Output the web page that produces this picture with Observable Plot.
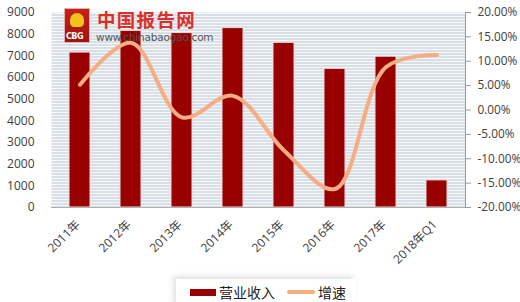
<!DOCTYPE html>
<html><head><meta charset="utf-8">
<script src="https://cdn.jsdelivr.net/npm/d3@7"></script>
<script src="https://cdn.jsdelivr.net/npm/@observablehq/plot@0.6"></script>
<style>
body{margin:0;background:#fff;font-family:"Open Sans","Noto Sans CJK SC",sans-serif;}
#wrap{position:relative;width:520px;height:302px;overflow:hidden;}
#chart{position:absolute;left:0;top:0;}
#legend{position:absolute;left:176px;top:279px;width:180px;height:30px;background:#fff;box-shadow:-3px -3px 6px rgba(0,0,0,0.12);font-size:14px;color:#222;font-family:"Noto Sans CJK SC",sans-serif;}
#logo{position:absolute;left:64px;top:8px;width:26px;height:35px;background:linear-gradient(#c8201a,#9e1410);border:1px solid #e9b0a8;box-sizing:border-box;}
</style></head>
<body><div id="wrap"><div id="chart"></div>
<div id="logo"><div style="position:absolute;left:5px;top:4px;width:14px;height:14px;background:#f4c21c;border-radius:50% 50% 30% 30%;"></div><div style="position:absolute;left:1px;bottom:1px;font:bold 8px 'DejaVu Sans';color:#fff;letter-spacing:-0.5px;">CBG</div></div>
<div style="position:absolute;left:97px;top:10px;font:bold 18.5px 'Noto Sans CJK SC';color:#d9302a;letter-spacing:1.3px;line-height:19px;">中国报告网</div>
<div style="position:absolute;left:96px;top:32px;font:10.5px 'DejaVu Sans';color:#555;letter-spacing:-0.2px;line-height:11px;">www.chinabaogao.com</div>
<div id="legend">
 <div style="position:absolute;left:14px;top:10px;width:26px;height:7px;background:#990000;"></div>
 <div style="position:absolute;left:43px;top:3px;">营业收入</div>
 <div style="position:absolute;left:111px;top:11px;width:28px;height:4px;background:#f5ad84;border-radius:2px;"></div>
 <div style="position:absolute;left:142px;top:3px;">增速</div>
</div>
</div>
<script>
const categories = ["2011年","2012年","2013年","2014年","2015年","2016年","2017年","2018年Q1"];
const revenue = [7150, 8150, 8050, 8280, 7600, 6400, 6960, 1250];
const growth = [5.2, 13.8, -1.5, 2.9, -8.3, -16.2, 8.8, 11.3];
const leftTicks = [0,1000,2000,3000,4000,5000,6000,7000,8000,9000];
const pctTicks = [-20,-15,-10,-5,0,5,10,15,20];

const toY = p => (p + 20) / 40 * 9000;
const data = categories.map((c,i)=>({c, rev: revenue[i], g: growth[i]}));

const chart = Plot.plot({
  width: 520, height: 276,
  marginLeft: 51, marginRight: 55, marginTop: 12, marginBottom: 69,
  style: {fontFamily: "'Open Sans','Noto Sans CJK SC',sans-serif", fontSize: "11.5px", color: "#404040", background: "transparent"},
  x: {domain: categories, paddingInner: 0.58, paddingOuter: 0.29, label: null},
  y: {domain: [0, 9000], label: null},
  marks: [
    Plot.frame({fill: "url(#stripes)", stroke: "none"}),
    Plot.axisY({ticks: leftTicks, tickSize: 0, tickPadding: 17, tickFormat: d => String(d), label: null, fontSize: 12}),
    Plot.axisY({anchor: "right", ticks: pctTicks.map(toY), tickSize: 5, tickPadding: 7, stroke: "#999", tickFormat: y => (y/9000*40 - 20).toFixed(2) + "%", label: null, fontSize: 11.8}),
    Plot.axisX({tickRotate: -45, tickSize: 0, tickPadding: 6, dx: -2, dy: 9, label: null, fontSize: 12}),
    Plot.barY(data, {x: "c", y: "rev", fill: "#990000", stroke: "#eadede", strokeWidth: 1}),
    Plot.ruleY([0], {stroke: "#b0b0b0"}),
    Plot.frame({anchor: "right", stroke: "#999"}),
    Plot.lineY(data, {x: "c", y: d => toY(d.g), stroke: "#f5ad84", strokeWidth: 4, curve: "catmull-rom", strokeLinecap: "round"})
  ]
});
const ns = "http://www.w3.org/2000/svg";
const defs = document.createElementNS(ns, "defs");
defs.innerHTML = '<pattern id="stripes" width="6" height="3" patternUnits="userSpaceOnUse"><rect width="6" height="3" fill="#f5f7f9"/><rect y="2" width="6" height="1" fill="#bcc7d2"/></pattern>';
chart.insertBefore(defs, chart.firstChild);
document.getElementById("chart").appendChild(chart);
</script>
</body></html>
